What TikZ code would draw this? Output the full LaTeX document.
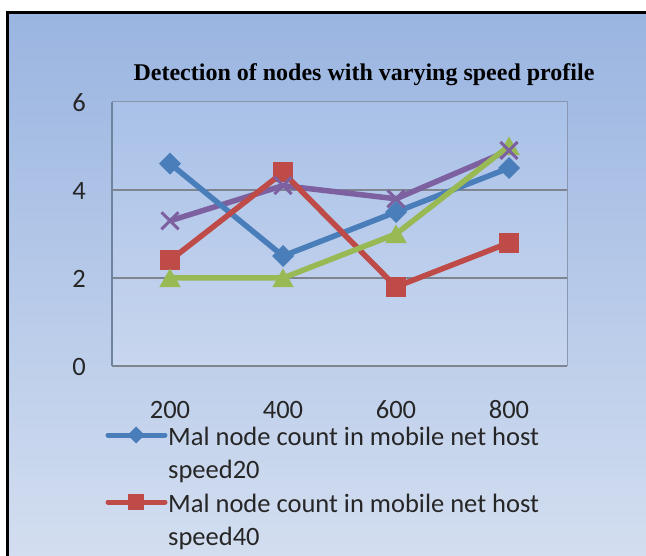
\documentclass[tikz,border=0pt]{standalone}
\usepackage{fontspec}
\setmainfont{Carlito}
\newfontfamily\titlefont{Liberation Serif}
\usetikzlibrary{shapes.geometric,shapes.misc}

\definecolor{serA}{HTML}{4A7EBB}
\definecolor{serB}{HTML}{BE4B48}
\definecolor{serC}{HTML}{98B954}
\definecolor{serD}{HTML}{7D60A0}
\definecolor{bgtop}{HTML}{9AB5E1}
\definecolor{bgbot}{HTML}{D3DEF0}
\definecolor{pltop}{HTML}{A9C1E8}
\definecolor{plbot}{HTML}{C8D6EE}
\definecolor{gridc}{HTML}{7E8590}

\begin{document}
\begin{tikzpicture}[x=1pt,y=-1pt,
  mk/.style={inner sep=0pt, outer sep=0pt},
  dia/.style={mk, diamond, minimum size=22pt, fill=#1},
  sq/.style={mk, rectangle, minimum size=20pt, fill=#1},
  tri/.style={mk, regular polygon, regular polygon sides=3, minimum size=25pt, fill=#1},
  xm/.style={mk, cross out, minimum size=17pt, draw=#1, line width=3pt},
  series/.style={line width=5.5pt, line join=round, draw=#1},
  ticklab/.style={font=\fontsize{26.5}{30}\selectfont, text=black!85, inner sep=0pt},
  legtext/.style={font=\fontsize{26.5}{33}\selectfont, text=black!85, align=left, inner sep=0pt, anchor=base west},
]
\useasboundingbox (0,0) rectangle (646,556);
\fill[white] (-5,-5) rectangle (651,561);

% chart background: vertical gradient built from thin bands
\foreach \i in {0,...,136} {
  \pgfmathsetmacro\mix{100*\i/136}
  \fill[bgbot!\mix!bgtop] (7,13+4*\i) rectangle (651,17.6+4*\i);
}
% frame (right and bottom edges lie outside the page)
\draw[black, line width=3pt] (7,561) -- (7,13) -- (651,13);

% title
\node[font=\titlefont\bfseries\fontsize{24}{28}\selectfont, inner sep=0pt] (title) at (364,75)
  {Detection of nodes with varying speed profile};

% plot area
\foreach \i in {0,...,65} {
  \pgfmathsetmacro\mix{100*\i/65}
  \fill[plbot!\mix!pltop] (112,102+4*\i) rectangle (567,106.4+4*\i);
}
\draw[gridc!60!bgtop, line width=1pt] (112,102) -- (567,102) -- (567,366);
\draw[gridc, line width=1.3pt] (112,190) -- (567,190);
\draw[gridc, line width=1.3pt] (112,278) -- (567,278);
\draw[gridc, line width=1.6pt] (112,366) -- (567,366);
\draw[gridc!70!serA, line width=1.6pt] (112,102) -- (112,366);

% y tick labels
\node[ticklab, anchor=east] (y6) at (86,103) {6};
\node[ticklab, anchor=east] (y4) at (86,191) {4};
\node[ticklab, anchor=east] (y2) at (86,279) {2};
\node[ticklab, anchor=east] (y0) at (86,367) {0};

% x tick labels
\node[ticklab] (x1) at (170,410) {200};
\node[ticklab] (x2) at (283,410) {400};
\node[ticklab] (x3) at (396,410) {600};
\node[ticklab] (x4) at (509,410) {800};

% data points (y = 366 - 44*value)
\coordinate (a1) at (170,163.6); \coordinate (a2) at (283,256); \coordinate (a3) at (396,212); \coordinate (a4) at (509,168);
\coordinate (b1) at (170,260.4); \coordinate (b2) at (283,172.4); \coordinate (b3) at (396,286.8); \coordinate (b4) at (509,242.8);
\coordinate (c1) at (170,278); \coordinate (c2) at (283,278); \coordinate (c3) at (396,234); \coordinate (c4) at (509,146);
\coordinate (d1) at (170,220.8); \coordinate (d2) at (283,185.6); \coordinate (d3) at (396,198.8); \coordinate (d4) at (509,150.4);

% series lines
\draw[series=serD] (d1) -- (d2) -- (d3) -- (d4);
\draw[series=serA] (a1) -- (a2) -- (a3) -- (a4);
\draw[series=serB] (b1) -- (b2) -- (b3) -- (b4);
\draw[series=serC] (c1) -- (c2) -- (c3) -- (c4);

% markers
\foreach \p in {a1,a2,a3,a4} \node[dia=serA] at (\p) {};
\foreach \p in {b1,b2,b3,b4} \node[sq=serB] at (\p) {};
\foreach \p in {c1,c2,c3,c4} \node[tri=serC, yshift=-3pt] at (\p) {};
\foreach \p in {d1,d2,d3,d4} \node[xm=serD] at (\p) {};

% legend
\coordinate (la1) at (108,435); \coordinate (la2) at (165,435);
\draw[series=serA, line width=5pt, line cap=round] (la1) -- (la2);
\node[dia=serA, minimum size=17pt] (lam) at (136,435) {};
\node[legtext] (lat) at (168,478) {Mal node count in mobile net host\\speed20};

\coordinate (lb1) at (108,502); \coordinate (lb2) at (165,502);
\draw[series=serB, line width=5pt, line cap=round] (lb1) -- (lb2);
\node[sq=serB, minimum size=16pt] (lbm) at (136,502) {};
\node[legtext] (lbt) at (168,545) {Mal node count in mobile net host\\speed40};
\end{tikzpicture}
\end{document}
